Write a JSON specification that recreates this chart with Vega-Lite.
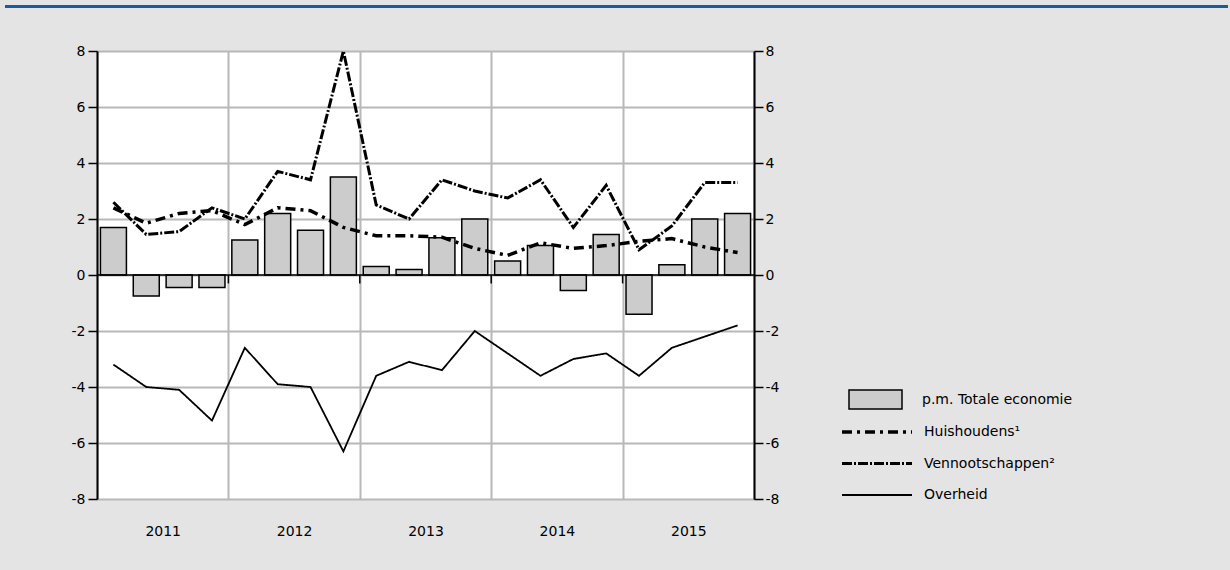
{
  "$schema": "https://vega.github.io/schema/vega-lite/v6.json",
  "background": "#e4e4e4",
  "padding": {"left": 5, "top": 5, "right": 2, "bottom": 33},
  "spacing": 36,
  "center": true,
  "config": {
    "font": "DejaVu Sans",
    "view": {"stroke": null},
    "axis": {"labelFontSize": 14, "labelColor": "black", "domainColor": "black", "tickColor": "black", "gridColor": "#b8b8b8", "gridWidth": 2, "title": null},
    "legend": {"labelFontSize": 14, "labelColor": "black"}
  },
  "datasets": {
    "kwartalen": [
      {"kwartaal": "2011K1", "tijd": 2011.125, "totaal": 1.7, "Huishoudens¹": 2.4, "Vennootschappen²": 2.6, "Overheid": -3.2},
      {"kwartaal": "2011K2", "tijd": 2011.375, "totaal": -0.75, "Huishoudens¹": 1.85, "Vennootschappen²": 1.45, "Overheid": -4.0},
      {"kwartaal": "2011K3", "tijd": 2011.625, "totaal": -0.45, "Huishoudens¹": 2.2, "Vennootschappen²": 1.55, "Overheid": -4.1},
      {"kwartaal": "2011K4", "tijd": 2011.875, "totaal": -0.45, "Huishoudens¹": 2.3, "Vennootschappen²": 2.4, "Overheid": -5.2},
      {"kwartaal": "2012K1", "tijd": 2012.125, "totaal": 1.25, "Huishoudens¹": 1.8, "Vennootschappen²": 2.0, "Overheid": -2.6},
      {"kwartaal": "2012K2", "tijd": 2012.375, "totaal": 2.2, "Huishoudens¹": 2.4, "Vennootschappen²": 3.7, "Overheid": -3.9},
      {"kwartaal": "2012K3", "tijd": 2012.625, "totaal": 1.6, "Huishoudens¹": 2.3, "Vennootschappen²": 3.4, "Overheid": -4.0},
      {"kwartaal": "2012K4", "tijd": 2012.875, "totaal": 3.5, "Huishoudens¹": 1.7, "Vennootschappen²": 8.0, "Overheid": -6.3},
      {"kwartaal": "2013K1", "tijd": 2013.125, "totaal": 0.3, "Huishoudens¹": 1.4, "Vennootschappen²": 2.5, "Overheid": -3.6},
      {"kwartaal": "2013K2", "tijd": 2013.375, "totaal": 0.2, "Huishoudens¹": 1.4, "Vennootschappen²": 2.0, "Overheid": -3.1},
      {"kwartaal": "2013K3", "tijd": 2013.625, "totaal": 1.33, "Huishoudens¹": 1.35, "Vennootschappen²": 3.4, "Overheid": -3.4},
      {"kwartaal": "2013K4", "tijd": 2013.875, "totaal": 2.0, "Huishoudens¹": 0.95, "Vennootschappen²": 3.0, "Overheid": -2.0},
      {"kwartaal": "2014K1", "tijd": 2014.125, "totaal": 0.5, "Huishoudens¹": 0.7, "Vennootschappen²": 2.75, "Overheid": -2.8},
      {"kwartaal": "2014K2", "tijd": 2014.375, "totaal": 1.05, "Huishoudens¹": 1.15, "Vennootschappen²": 3.4, "Overheid": -3.6},
      {"kwartaal": "2014K3", "tijd": 2014.625, "totaal": -0.55, "Huishoudens¹": 0.95, "Vennootschappen²": 1.7, "Overheid": -3.0},
      {"kwartaal": "2014K4", "tijd": 2014.875, "totaal": 1.45, "Huishoudens¹": 1.05, "Vennootschappen²": 3.2, "Overheid": -2.8},
      {"kwartaal": "2015K1", "tijd": 2015.125, "totaal": -1.4, "Huishoudens¹": 1.2, "Vennootschappen²": 0.9, "Overheid": -3.6},
      {"kwartaal": "2015K2", "tijd": 2015.375, "totaal": 0.37, "Huishoudens¹": 1.3, "Vennootschappen²": 1.75, "Overheid": -2.6},
      {"kwartaal": "2015K3", "tijd": 2015.625, "totaal": 2.0, "Huishoudens¹": 1.0, "Vennootschappen²": 3.3, "Overheid": -2.2},
      {"kwartaal": "2015K4", "tijd": 2015.875, "totaal": 2.2, "Huishoudens¹": 0.8, "Vennootschappen²": 3.3, "Overheid": -1.8}
    ],
    "jaargrenzen": [{"grens": 2012}, {"grens": 2013}, {"grens": 2014}, {"grens": 2015}]
  },
  "vconcat": [
    {
      "width": 1223,
      "height": 3,
      "view": {"fill": "#1b5a9b", "stroke": null},
      "data": {"values": []},
      "mark": "point",
      "encoding": {}
    },
    {
      "width": 657,
      "height": 448,
      "view": {"fill": "white", "stroke": null},
      "data": {"name": "kwartalen"},
      "resolve": {"axis": {"y": "independent"}},
      "layer": [
        {
          "mark": {"type": "bar", "size": 26, "stroke": "black", "strokeWidth": 1.5},
          "encoding": {
            "x": {"field": "tijd", "type": "quantitative",
              "scale": {"domain": [2011, 2016], "nice": false, "zero": false, "padding": 0},
              "axis": {"values": [2011, 2011.5, 2012, 2012.5, 2013, 2013.5, 2014, 2014.5, 2015, 2015.5, 2016],
                "labelExpr": "datum.value % 1 === 0 ? '' : floor(datum.value)",
                "gridOpacity": {"condition": {"test": "datum.value % 1 === 0", "value": 1}, "value": 0},
                "ticks": false, "domain": false, "labelPadding": 25, "labelFontSize": 14}},
            "y": {"field": "totaal", "type": "quantitative",
              "scale": {"domain": [-8, 8], "nice": false},
              "axis": {"orient": "left", "values": [-8, -6, -4, -2, 0, 2, 4, 6, 8], "labelExpr": "'' + datum.value", "grid": true, "domainWidth": 2, "tickSize": 9, "tickWidth": 1.5, "labelPadding": 3}},
            "fill": {"datum": "p.m. Totale economie", "type": "nominal",
              "scale": {"range": ["#cccccc"]},
              "legend": {"orient": "none", "legendX": 843, "legendY": 367, "title": null,
                "symbolType": "M-1,-0.36H1V0.36H-1Z", "symbolSize": 2809, "symbolStrokeColor": "black", "symbolStrokeWidth": 1.5, "symbolFillColor": "#cccccc", "labelOffset": 19}}
          }
        },
        {
          "data": {"values": [{}]},
          "mark": {"type": "rule", "color": "black", "strokeWidth": 1.5},
          "encoding": {"y": {"datum": 0, "type": "quantitative", "axis": null}}
        },
        {
          "data": {"name": "jaargrenzen"},
          "mark": {"type": "rule", "color": "black", "strokeWidth": 1.5},
          "encoding": {
            "x": {"field": "grens", "type": "quantitative"},
            "y": {"datum": 0, "type": "quantitative", "axis": null},
            "y2": {"datum": -0.3}
          }
        },
        {
          "transform": [{"fold": ["Huishoudens¹", "Vennootschappen²", "Overheid"], "as": ["reeks", "waarde"]}],
          "mark": {"type": "line", "color": "black"},
          "encoding": {
            "x": {"field": "tijd", "type": "quantitative"},
            "y": {"field": "waarde", "type": "quantitative",
              "axis": {"orient": "right", "values": [-8, -6, -4, -2, 0, 2, 4, 6, 8], "labelExpr": "'' + datum.value", "grid": false, "domainWidth": 2, "tickSize": 9, "tickWidth": 1.5, "labelPadding": 2, "minExtent": 382}},
            "strokeDash": {"field": "reeks", "type": "nominal",
              "scale": {"domain": ["Huishoudens¹", "Vennootschappen²", "Overheid"], "range": [[10, 5, 3, 5], [10, 2, 2, 2], [1, 0]]},
              "legend": {"orient": "none", "legendX": 835, "legendY": 419, "title": null, "symbolType": "stroke", "symbolSize": 4900, "symbolStrokeColor": "black", "labelOffset": 10, "clipHeight": 16, "rowPadding": 15.5}},
            "strokeWidth": {"field": "reeks", "type": "nominal",
              "scale": {"type": "ordinal", "domain": ["Huishoudens¹", "Vennootschappen²", "Overheid"], "range": [3.5, 3, 1.8]},
              "legend": {"orient": "none", "legendX": 835, "legendY": 419, "title": null, "symbolType": "stroke", "symbolSize": 4900, "symbolStrokeColor": "black", "labelOffset": 10, "clipHeight": 16, "rowPadding": 15.5}}
          }
        }
      ]
    }
  ]
}
